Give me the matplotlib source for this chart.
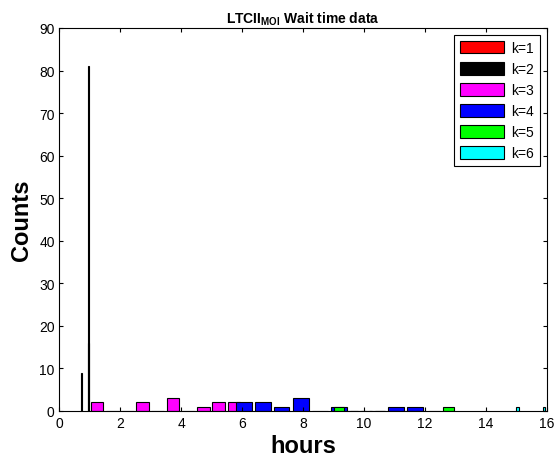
import numpy as np
import matplotlib
matplotlib.use("Agg")
import matplotlib.pyplot as plt

plt.rcParams['font.family'] = ['Liberation Sans', 'DejaVu Sans']
plt.rcParams['mathtext.fontset'] = 'custom'
plt.rcParams['mathtext.bf'] = 'Liberation Sans:bold'
plt.rcParams['mathtext.rm'] = 'Liberation Sans'

# bin centres (hours) and counts, one histogram per k
k1_x = [0.95]
k1_y = [81]
k2_x = [0.73, 0.95]
k2_y = [9, 16]
k3_x = [1.23, 1.73, 2.23, 2.73, 3.23, 3.73, 4.23, 4.73, 5.23, 5.73]
k3_y = [2, 0, 0, 2, 0, 3, 0, 1, 2, 2]
k4_x = [6.05, 6.67, 7.29, 7.93, 8.55, 9.18, 9.80, 10.42, 11.04, 11.67]
k4_y = [2, 2, 1, 3, 0, 1, 0, 0, 1, 1]
k5_x = [9.18, 9.63, 10.08, 10.53, 10.98, 11.42, 11.87, 12.32, 12.77]
k5_y = [1, 0, 0, 0, 0, 0, 0, 0, 1]
k6_x = [15.04, 15.92]
k6_y = [1, 1]

series = [
    (k1_x, k1_y, 0.045, 'red', 'k=1'),
    (k2_x, k2_y, 0.045, 'black', 'k=2'),
    (k3_x, k3_y, 0.42, 'magenta', 'k=3'),
    (k4_x, k4_y, 0.52, 'blue', 'k=4'),
    (k5_x, k5_y, 0.35, 'lime', 'k=5'),
    (k6_x, k6_y, 0.075, 'cyan', 'k=6'),
]

fig = plt.figure(figsize=(5.57, 4.64), dpi=100)
ax = fig.add_axes([0.1068, 0.1121, 0.8747, 0.8254])

for x, y, w, c, lab in series:
    ax.bar(x, y, width=w, color=c, edgecolor='black', linewidth=0.8, label=lab)

ax.set_xlim(0, 16)
ax.set_ylim(0, 90)
ax.set_xticks(np.arange(0, 17, 2))
ax.set_yticks(np.arange(0, 91, 10))
ax.tick_params(direction='in', top=True, right=True, length=3, labelsize=10)
for s in ax.spines.values():
    s.set_linewidth(0.8)

ax.set_xlabel('hours', fontsize=17, fontweight='bold', labelpad=3)
ax.set_ylabel('Counts', fontsize=17, fontweight='bold', labelpad=4)
ax.set_title(r'LTCII$_{\mathbf{MOI}}$ Wait time data', fontsize=10, fontweight='bold', pad=4)

leg = ax.legend(loc='upper right', fontsize=10, handlelength=3.2, handleheight=1.05,
                labelspacing=0.5, fancybox=False, edgecolor='black', framealpha=1,
                borderaxespad=0.5, handletextpad=0.5)
leg.get_frame().set_linewidth(0.8)

fig.savefig('out.png', dpi=100)
